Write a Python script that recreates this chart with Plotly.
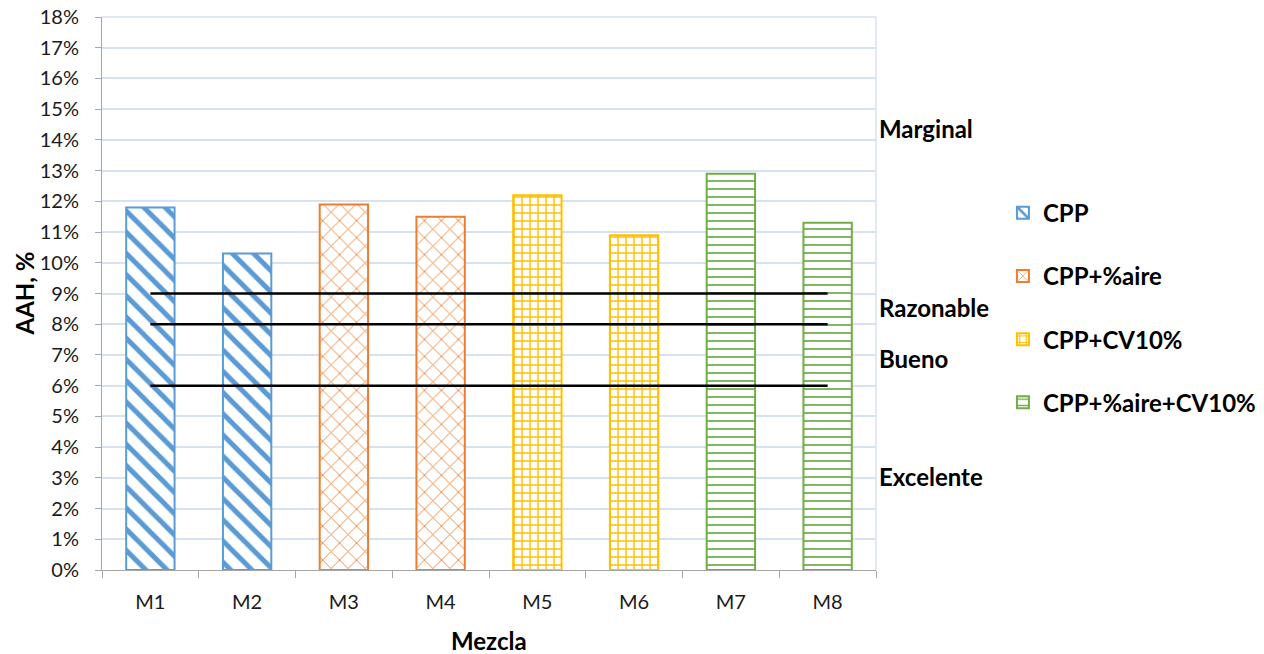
import plotly.graph_objects as go

categories = ["M1", "M2", "M3", "M4", "M5", "M6", "M7", "M8"]
values = [11.8, 10.3, 11.9, 11.5, 12.2, 10.9, 12.9, 11.3]
series_names = ["CPP", "CPP+%aire", "CPP+CV10%", "CPP+%aire+CV10%"]
series_members = [[0, 1], [2, 3], [4, 5], [6, 7]]
series_colors = ["#5B9BD5", "#ED7D31", "#FFC000", "#70AD47"]
series_patterns = ["\\", "x", "+", "-"]
pattern_sizes = [15, 12, 8, 8]
pattern_solidity = [0.33, 0.14, 0.32, 0.22]

limit_values = [9, 8, 6]
limit_span = ["M1", "M8"]

zone_labels = ["Marginal", "Razonable", "Bueno", "Excelente"]
zone_positions = [14.36, 8.53, 6.9, 3.03]

FONT = "Lato"
TXT = "#1a1a1a"

fig = go.Figure()

for name, idx, col, pat, ps, sol in zip(series_names, series_members, series_colors,
                                        series_patterns, pattern_sizes, pattern_solidity):
    fig.add_trace(go.Bar(
        x=[categories[i] for i in idx],
        y=[values[i] for i in idx],
        name=name,
        width=0.5,
        legendgroup=name,
        marker=dict(
            color="white",
            line=dict(color=col, width=2),
            pattern=dict(shape=pat, fgcolor=col, bgcolor="white", size=ps,
                         solidity=sol, fillmode="overlay", fgopacity=1),
        ),
    ))

for lv in limit_values:
    fig.add_trace(go.Scatter(
        x=limit_span, y=[lv, lv], mode="lines",
        line=dict(color="black", width=2.5),
        showlegend=False, hoverinfo="skip",
    ))

for lab, pos in zip(zone_labels, zone_positions):
    fig.add_annotation(
        text="<b>%s</b>" % lab, x=1.0015, xref="paper", y=pos, yref="y",
        xanchor="left", yanchor="middle", showarrow=False,
        font=dict(family=FONT, size=24, color="black"),
    )

# axis titles
fig.add_annotation(text="<b>AAH, %</b>", x=-0.0995, xref="paper", y=0.5, yref="paper",
                   xanchor="center", yanchor="middle", textangle=-90, showarrow=False,
                   font=dict(family=FONT, size=24, color="black"))
fig.add_annotation(text="<b>Mezcla</b>", x=0.5, xref="paper", y=-0.1266, yref="paper",
                   xanchor="center", yanchor="middle", showarrow=False,
                   font=dict(family=FONT, size=24, color="black"))

fig.update_layout(
    width=1264, height=654,
    margin=dict(l=102, r=388, t=17, b=84, autoexpand=False),
    plot_bgcolor="white", paper_bgcolor="white",
    barmode="overlay",
    font=dict(family=FONT, size=20, color=TXT),
    showlegend=True,
    legend=dict(
        x=1.1640, xanchor="left", y=0.686, yanchor="top",
        tracegroupgap=29,
        font=dict(family=FONT, size=24, color="black", weight="bold"),
        itemwidth=30,
    ),
    xaxis=dict(
        type="category",
        categoryorder="array", categoryarray=categories,
        showline=True, linecolor="#A6A6A6", linewidth=1,
        ticks="outside", ticklen=7, tickcolor="#A6A6A6",
        tickson="boundaries",
        showgrid=False, automargin=False,
        ticklabelstandoff=14,
        tickfont=dict(family=FONT, size=20, color=TXT),
    ),
    yaxis=dict(
        range=[0, 18], dtick=1, ticksuffix="%",
        showline=True, linecolor="#A6A6A6", linewidth=1,
        ticks="outside", ticklen=6, tickcolor="#A6A6A6",
        showgrid=True, gridcolor="#D6E2F0", gridwidth=1.5,
        zeroline=False, automargin=False,
        ticklabelstandoff=12, ticklabeloverflow="allow",
        tickfont=dict(family=FONT, size=20, color=TXT),
    ),
)

fig.add_shape(type="line", xref="paper", yref="paper", x0=1, x1=1, y0=0, y1=1,
              line=dict(color="#D6E2F0", width=1.5))
fig.add_shape(type="line", xref="paper", yref="paper", x0=0, x1=1, y0=1, y1=1,
              line=dict(color="#D6E2F0", width=1.5))

# remove the browser's default 8px body margin so the figure fills the window
fig.write_html("out.html",
               config={"displayModeBar": False},
               post_script="document.body.style.margin='0px';document.body.style.overflow='hidden';")
